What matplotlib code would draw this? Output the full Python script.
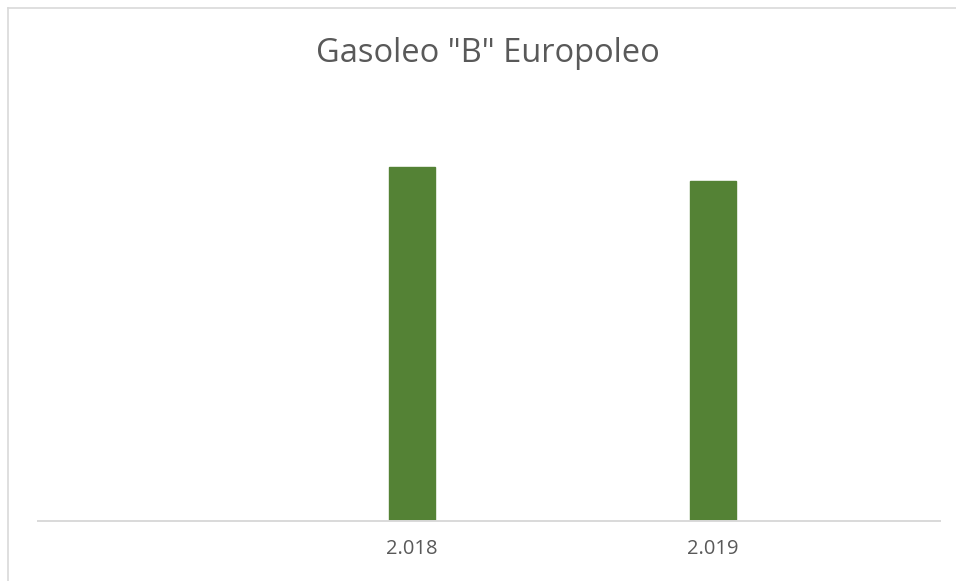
import matplotlib.pyplot as plt
from matplotlib.lines import Line2D

# Data
years = ["2.018", "2.019"]
values = [1060, 1020]
positions = [1, 2]

plt.rcParams['font.family'] = ['Open Sans', 'DejaVu Sans']

W, H = 956, 581
fig = plt.figure(figsize=(W / 100, H / 100), dpi=100)
ax = fig.add_axes([38 / W, 1 - 521 / H, (940 - 38) / W, (521 - 100) / H])

ax.bar(positions, values, width=0.155, color='#548235', edgecolor='#548235', zorder=2)

ax.set_xlim(-0.2425, 2.754)
ax.set_ylim(0, 1262)
ax.set_xticks(positions)
ax.set_xticklabels(years, fontsize=14.5, color='#595959')
ax.tick_params(axis='x', length=0, pad=13)
ax.set_yticks([])

for s in ['top', 'right', 'left']:
    ax.spines[s].set_visible(False)
ax.spines['bottom'].set_color('#d9d9d9')
ax.spines['bottom'].set_linewidth(1.4)

fig.text(488 / W, 1 - 54 / H, 'Gasoleo "B" Europoleo', ha='center', va='center',
         fontsize=23.5, color='#595959')

# chart border (cropped on right and bottom)
fig.add_artist(Line2D([7.5 / W, 7.5 / W], [0, 1 - 7.5 / H], color='#d9d9d9', lw=1.2))
fig.add_artist(Line2D([7.5 / W, 1], [1 - 7.5 / H, 1 - 7.5 / H], color='#d9d9d9', lw=1.2))

fig.savefig('out.png', dpi=100, facecolor='white')
